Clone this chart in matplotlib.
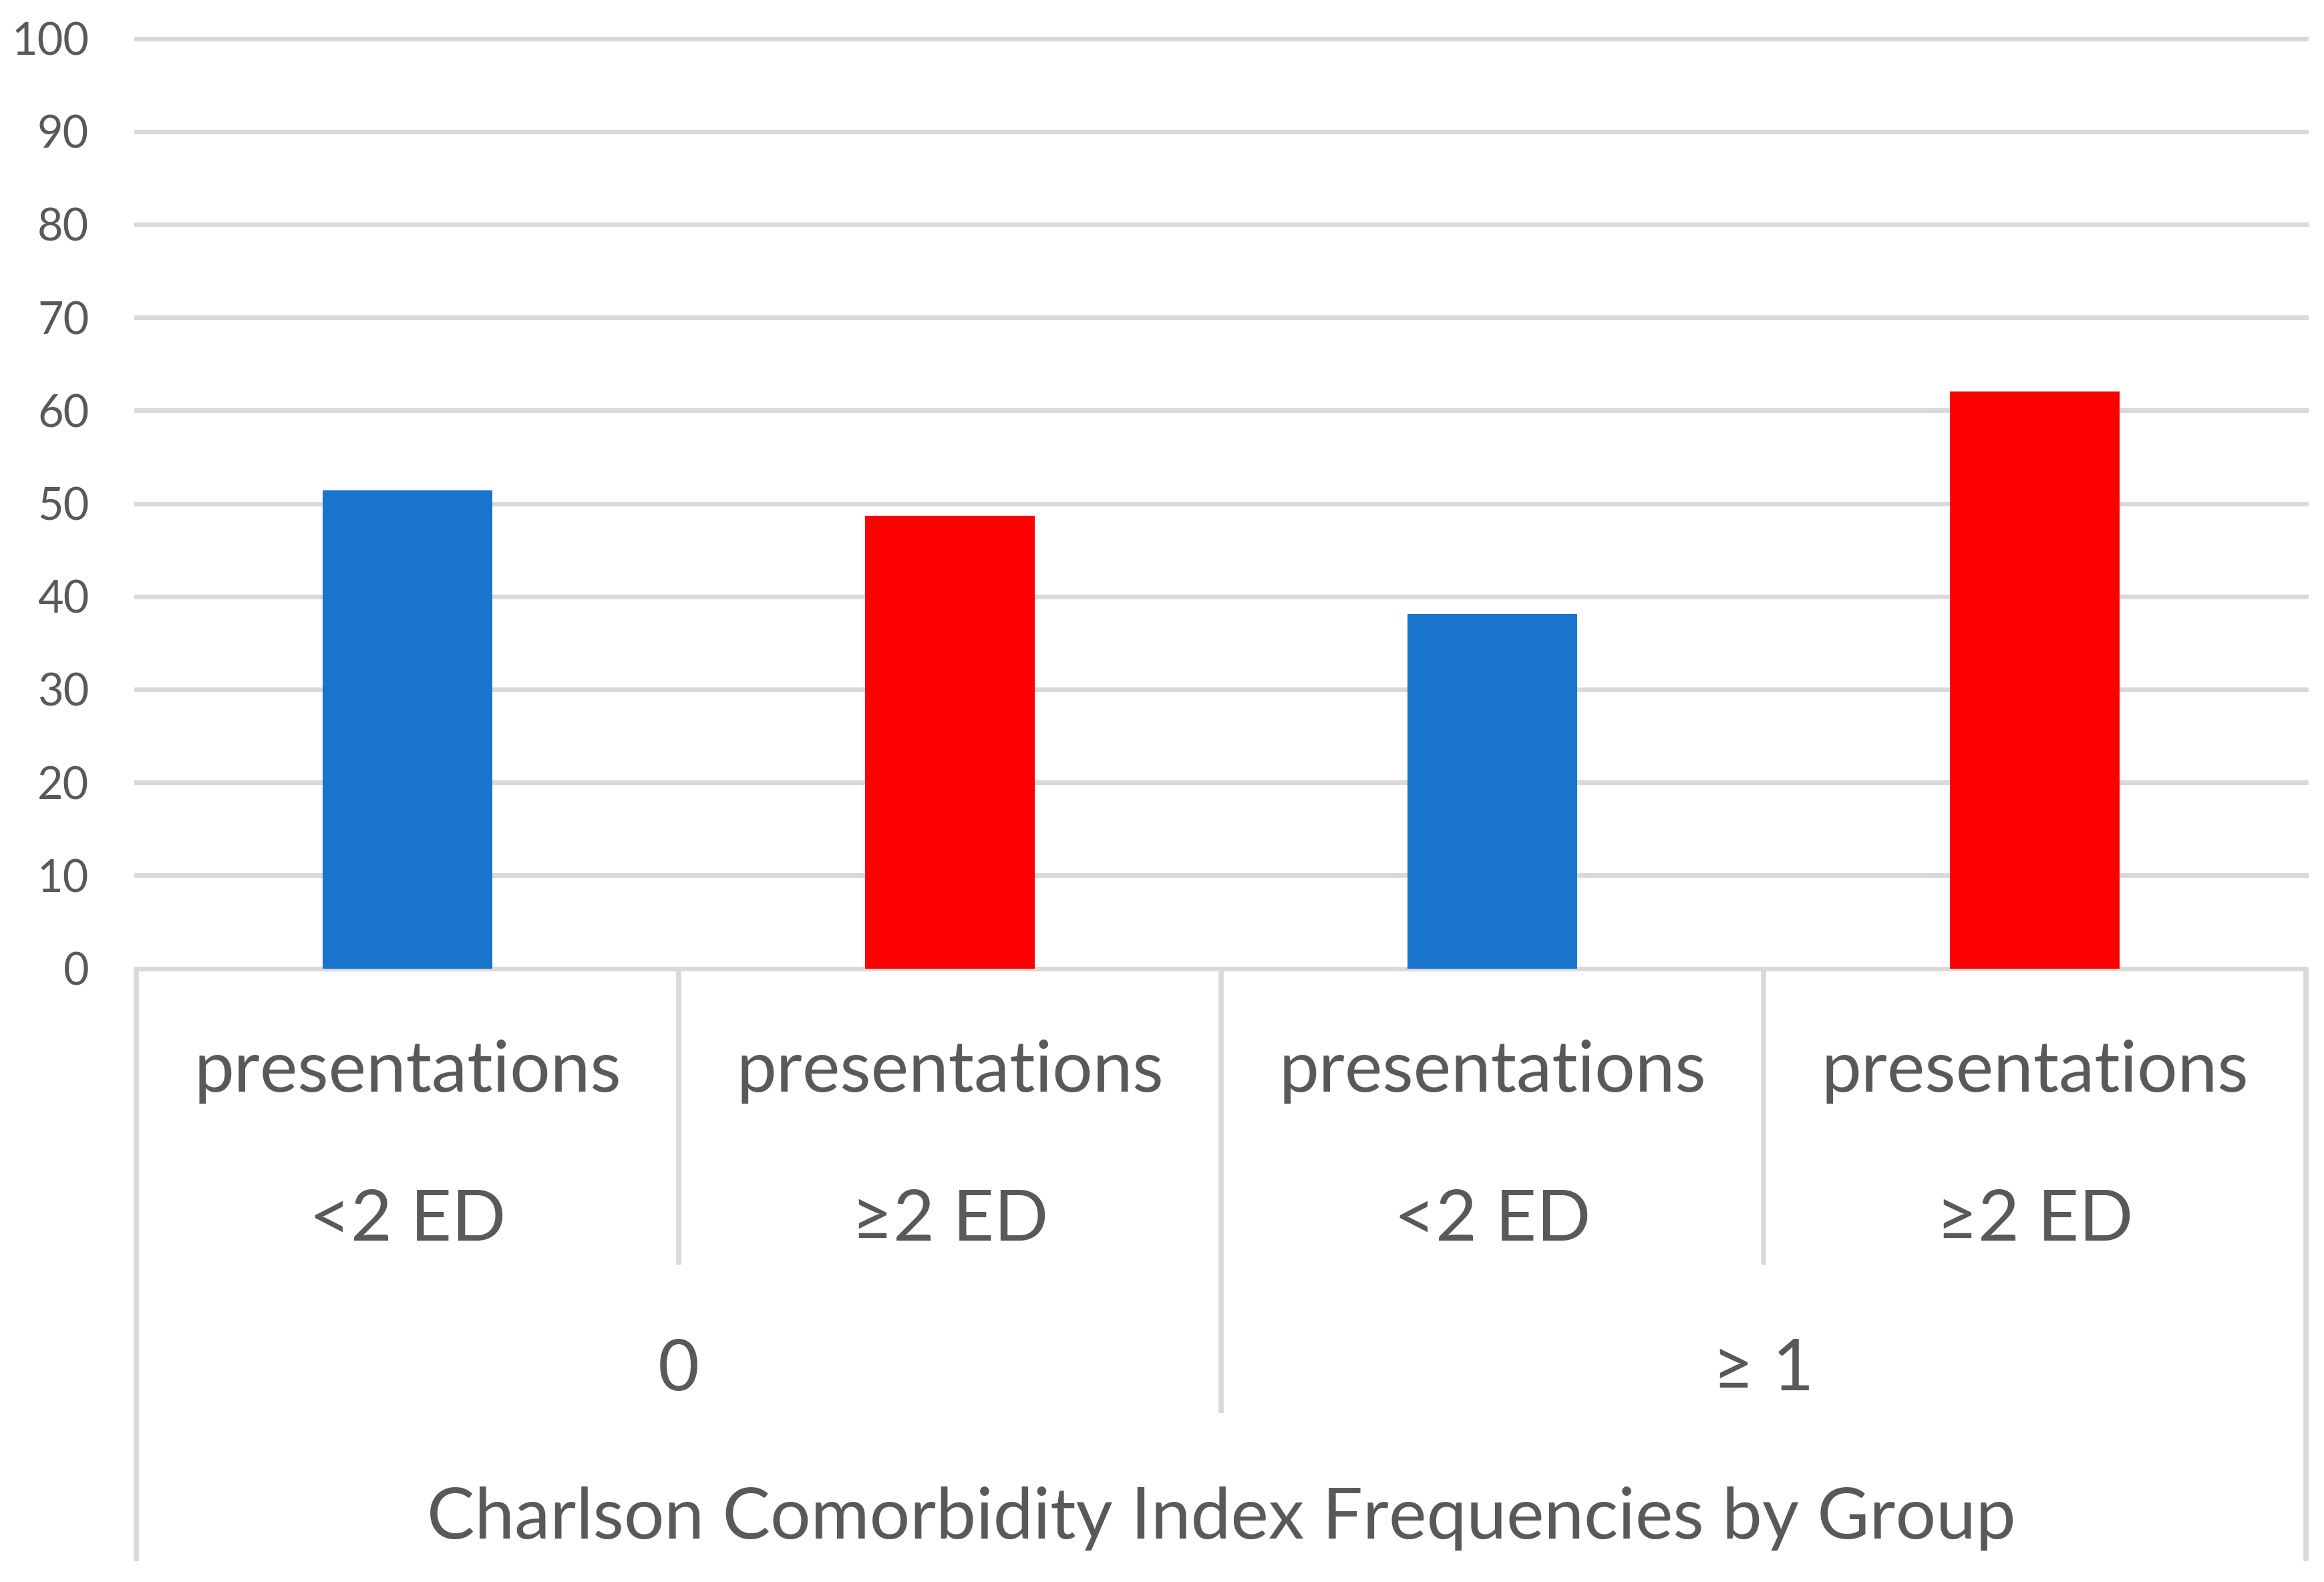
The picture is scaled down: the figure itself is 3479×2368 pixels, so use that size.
import matplotlib
matplotlib.use("Agg")
import matplotlib.pyplot as plt

# ---- data ----
categories = ["<2 ED", "≥2 ED", "<2 ED", "≥2 ED"]
sub_line = "presentations"
groups = ["0", "≥ 1"]
values = [51.4, 48.7, 38.1, 62.0]
bar_colors = ["#1874CD", "#FF0000", "#1874CD", "#FF0000"]
yticks = list(range(0, 101, 10))
axis_title = "Charlson Comorbidity Index Frequencies by Group"

FONT = ["Lato", "DejaVu Sans"]
plt.rcParams["font.family"] = FONT
TXT = "#595959"
GRID = "#D9D9D9"

W, H = 3480, 2368
DPI = 100
fig = plt.figure(figsize=(W / DPI, H / DPI), dpi=DPI)
fig.patch.set_facecolor("white")

x_left, x_right = 204, 3452
y_top, y_zero, y_bottom = 57.5, 1449.5, 2337

def fx(px):
    return px / W

def fy(py):
    return 1 - py / H

ax = fig.add_axes([fx(x_left), fy(y_zero), fx(x_right - x_left), (y_zero - y_top) / H])
xs = list(range(len(values)))
ax.bar(xs, values, width=0.314, color=bar_colors, zorder=3)
ax.set_xlim(-0.5, len(values) - 0.5)
ax.set_ylim(0, 100)
ax.set_yticks(yticks)
ax.set_yticklabels([str(t) for t in yticks], fontsize=48, color=TXT)
ax.tick_params(axis="y", length=0, pad=51)
ax.set_xticks([])
ax.yaxis.grid(True, color=GRID, linewidth=5, zorder=0)
ax.set_axisbelow(True)
for s in ax.spines.values():
    s.set_visible(False)
for gl in ax.get_ygridlines():
    gl.set_clip_on(False)

# ---- multi-level category axis ----
bx = fig.add_axes([fx(x_left), fy(y_bottom), fx(x_right - x_left), (y_bottom - y_zero) / H])
bx.set_xlim(-0.5, len(values) - 0.5)
bx.set_ylim(y_bottom, y_zero)
bx.axis("off")

lw = 5.5
n = len(values)
for xv in (-0.5, n - 0.5):
    bx.plot([xv, xv], [y_zero, y_bottom], color=GRID, lw=lw, clip_on=False, solid_capstyle="butt")
for i in range(n - 1):
    xv = i + 0.5
    end = 2115 if (i + 1) % 2 == 0 else 1893
    bx.plot([xv, xv], [y_zero, end], color=GRID, lw=lw, clip_on=False, solid_capstyle="butt")

FS = 77
for i, c in enumerate(categories):
    bx.text(i, 1634, sub_line, ha="center", va="baseline", fontsize=FS, color=TXT)
    bx.text(i, 1857, c, ha="center", va="baseline", fontsize=FS, color=TXT)

for g, name in enumerate(groups):
    bx.text(2 * g + 0.5, 2081, name, ha="center", va="baseline", fontsize=FS, color=TXT)

bx.text((n - 1) / 2, 2303, axis_title, ha="center", va="baseline", fontsize=FS, color=TXT)

fig.savefig("out.png", dpi=DPI, facecolor="white")
